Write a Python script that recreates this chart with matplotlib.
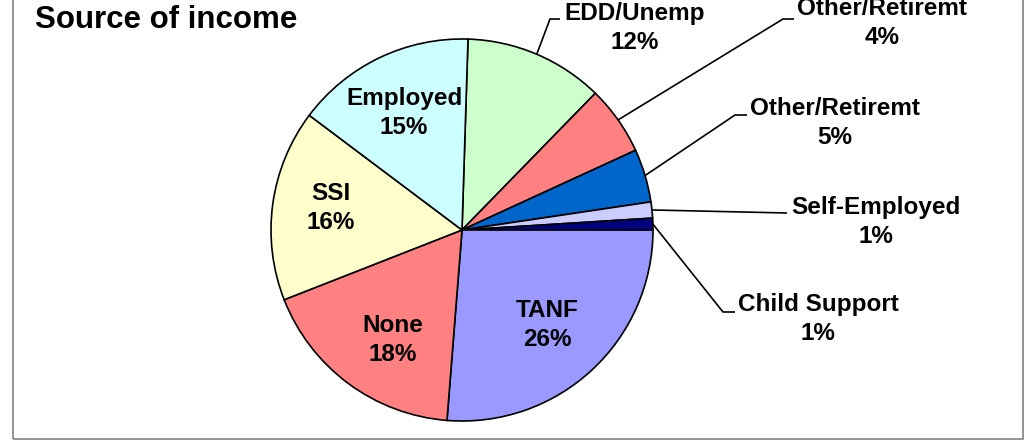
import numpy as np
import matplotlib
matplotlib.use("Agg")
import matplotlib.pyplot as plt
from matplotlib.patches import Rectangle

plt.rcParams['font.family'] = ['Liberation Sans', 'DejaVu Sans']

# Data (clockwise from the top of the pie)
categories = ["EDD/Unemp", "Other/Retiremt", "Other/Retiremt", "Self-Employed",
              "Child Support", "TANF", "None", "SSI", "Employed"]
shares = [11.8, 5.85, 4.5, 1.36, 1.0, 26.25, 17.8, 16.2, 15.25]
pct_labels = ["12%", "4%", "5%", "1%", "1%", "26%", "18%", "16%", "15%"]
colors = ["#CCFFCC", "#FF8080", "#0066CC", "#CCCCFF", "#000080",
          "#9999FF", "#FF8080", "#FFFFCC", "#CCFFFF"]

W, H = 1029, 444
fig = plt.figure(figsize=(W / 100, H / 100), dpi=100)
ax = fig.add_axes([0, 0, 1, 1])

cx, cy, r = 462, H - 230, 191
wedges, _ = ax.pie(shares, colors=colors, startangle=88.2, counterclock=False,
                   center=(cx, cy), radius=r,
                   wedgeprops=dict(edgecolor="black", linewidth=1.2))
ax.set_xlim(0, W)
ax.set_ylim(0, H)
ax.set_aspect('equal')
ax.axis('off')

fs = 17.5
ls = 1.32
# label placement (layout): index -> (text center x, text center y, leader path)
inside = {5: (547, 325), 6: (393, 340), 7: (331, 208), 8: (404, 113)}
outside = {
    0: (635, 28, [(550, 19), (560, 19)]),
    1: (882, 23, [(783, 19), (794, 19)]),
    2: (835, 123, [(735, 115), (747, 115)]),
    3: (876, 222, [(787, 213)]),
    4: (818, 319, [(723, 312), (735, 312)]),
}

for i, (x, y) in inside.items():
    ax.text(x, H - y, f"{categories[i]}\n{pct_labels[i]}", ha='center', va='center',
            fontsize=fs, fontweight='bold', linespacing=ls)

for i, (x, y, path) in outside.items():
    w = wedges[i]
    mid = np.deg2rad((w.theta1 + w.theta2) / 2)
    pts = [(cx + r * np.cos(mid), cy + r * np.sin(mid))] + [(px, H - py) for px, py in path]
    xs, ys = zip(*pts)
    ax.plot(xs, ys, color='black', lw=1.2, solid_capstyle='butt')
    ax.text(x, H - y, f"{categories[i]}\n{pct_labels[i]}", ha='center', va='center',
            fontsize=fs, fontweight='bold', linespacing=ls)

ax.text(35, H - 20, "Source of income", ha='left', va='center',
        fontsize=22.5, fontweight='bold')

fig.patches.append(Rectangle((13, H - 439), 1010, 460, transform=None,
                             fill=False, edgecolor='#808080', lw=1.2))

fig.savefig("out.png", dpi=100)
